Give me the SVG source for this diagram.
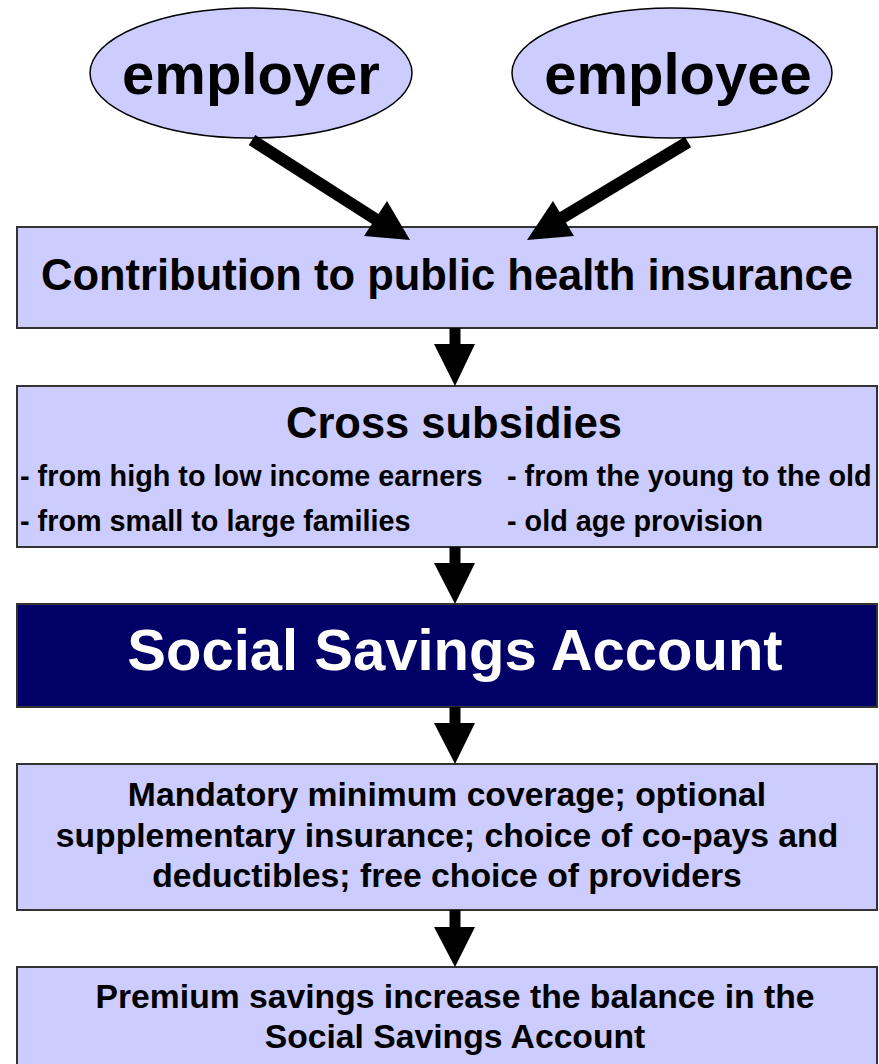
<svg xmlns="http://www.w3.org/2000/svg" width="879" height="1064" viewBox="0 0 879 1064">
  <style>
    .box { fill: #ccccff; stroke: #333333; stroke-width: 2; }
    .dark { fill: #000066; stroke: #333333; stroke-width: 2; }
    .oval { fill: #ccccff; stroke: #000000; stroke-width: 1.5; }
    text { font-family: "Liberation Sans", Arial, sans-serif; font-weight: bold; fill: #000000; }
    .mid { text-anchor: middle; }
    .big { font-size: 58px; }
    .head { font-size: 43.5px; }
    .sub { font-size: 28.8px; }
    .body { font-size: 33.7px; }
    .white { fill: #ffffff; }
    .shaft { stroke: #000000; fill: none; }
    .tip { fill: #000000; }
  </style>
  <rect width="879" height="1064" fill="#ffffff"/>

  <g id="employer">
    <ellipse class="oval" cx="251" cy="73" rx="161" ry="65"/>
    <text class="big mid" x="251" y="94">employer</text>
  </g>
  <g id="employee">
    <ellipse class="oval" cx="672" cy="73" rx="160" ry="65"/>
    <text class="big mid" x="678" y="94">employee</text>
  </g>

  <g id="contribution">
    <rect class="box" x="17" y="227" width="860" height="101"/>
    <text class="head mid" x="447" y="290">Contribution to public health insurance</text>
  </g>

  <g id="cross-subsidies">
    <rect class="box" x="17" y="386" width="860" height="161"/>
    <text class="head mid" x="454" y="438">Cross subsidies</text>
    <text class="sub" x="20" y="486">- from high to low income earners</text>
    <text class="sub" x="507" y="486">- from the young to the old</text>
    <text class="sub" x="20" y="531">- from small to large families</text>
    <text class="sub" x="507" y="531">- old age provision</text>
  </g>

  <g id="social-savings-account">
    <rect class="dark" x="17" y="604" width="860" height="103"/>
    <text class="big mid white" x="455" y="670">Social Savings Account</text>
  </g>

  <g id="coverage">
    <rect class="box" x="17" y="764" width="860" height="146"/>
    <text class="body mid" x="447" y="806">Mandatory minimum coverage; optional</text>
    <text class="body mid" x="447" y="847">supplementary insurance; choice of co-pays and</text>
    <text class="body mid" x="447" y="887">deductibles; free choice of providers</text>
  </g>

  <g id="premium-savings">
    <rect class="box" x="17" y="967" width="860" height="120"/>
    <text class="body mid" x="455" y="1008">Premium savings increase the balance in the</text>
    <text class="body mid" x="455" y="1048">Social Savings Account</text>
  </g>

  <g id="connectors">
    <!-- employer -> contribution -->
    <line class="shaft" x1="252" y1="140" x2="380" y2="222" stroke-width="12"/>
    <polygon class="tip" points="410,240 387,201 364,236"/>
    <!-- employee -> contribution -->
    <line class="shaft" x1="688" y1="142" x2="555" y2="222" stroke-width="12"/>
    <polygon class="tip" points="527,240 553,201 574,236"/>
    <!-- vertical flow -->
    <line class="shaft" x1="455" y1="328" x2="455" y2="346" stroke-width="11"/>
    <polygon class="tip" points="434,344 475,344 455,386"/>
    <line class="shaft" x1="455" y1="547" x2="455" y2="565" stroke-width="11"/>
    <polygon class="tip" points="434,563 475,563 455,604"/>
    <line class="shaft" x1="455" y1="707" x2="455" y2="725" stroke-width="11"/>
    <polygon class="tip" points="434,723 475,723 455,764"/>
    <line class="shaft" x1="455" y1="910" x2="455" y2="929" stroke-width="11"/>
    <polygon class="tip" points="434,927 475,927 455,967"/>
  </g>
</svg>
